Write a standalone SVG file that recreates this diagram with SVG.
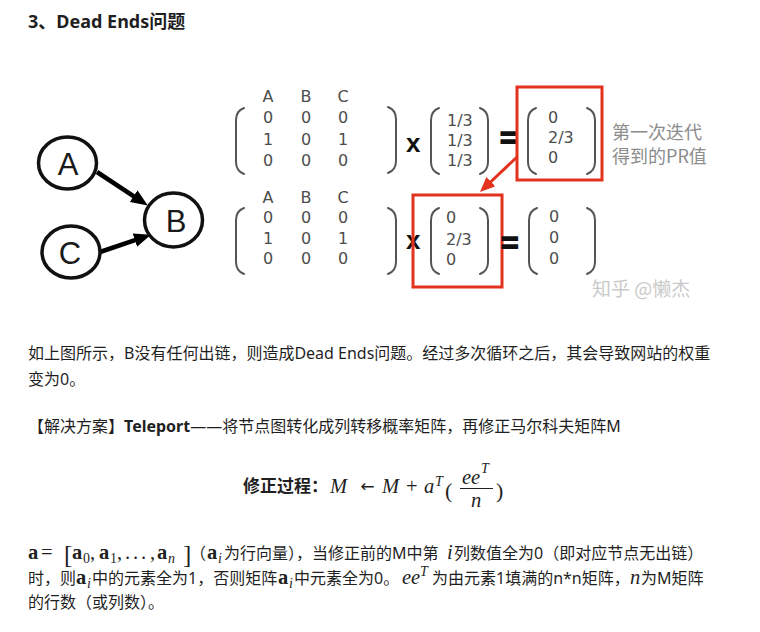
<svg xmlns="http://www.w3.org/2000/svg" width="760" height="632" viewBox="0 0 760 632">
<defs>
<style>
.m{font-family:"DejaVu Sans",sans-serif;font-size:16px;fill:#4d4d4d}
.mc{text-anchor:middle}
.br{fill:none;stroke:#555;stroke-width:2;stroke-linecap:round}
.op{font-family:"Liberation Sans",sans-serif;font-weight:bold;fill:#111}
.eq{font-family:"Liberation Sans",sans-serif;font-weight:bold;font-size:30px;fill:#111;stroke:#111;stroke-width:1.6}
.red{fill:none;stroke:#e3321e;stroke-width:3}
.node ellipse{fill:#fff;stroke:#111;stroke-width:3.5}
.node text{font-family:"Liberation Sans",sans-serif;font-size:31px;fill:#1a1a1a;text-anchor:middle}
.edge{stroke:#000;stroke-width:4.5;fill:none}
.t{font-family:"Noto Sans","Noto Sans CJK SC",sans-serif;font-size:16px;fill:#1f1f1f}
.math{font-family:"Liberation Serif",serif;font-size:20.5px;fill:#1f1f1f}
.sub{font-family:"Liberation Serif",serif;font-size:14px;fill:#1f1f1f}
.b{font-weight:bold}
.i{font-style:italic}
.note{font-family:"Noto Sans CJK SC",sans-serif;font-size:18px;fill:#8c8c8c}
.wm{font-family:"Noto Sans CJK SC",sans-serif;font-size:19px;fill:#cacaca}
</style>
<path id="lp" d="M9,0 Q1,3 1,12 L1,54 Q1,63 9,66"/>
<path id="rp" d="M0,0 Q8,3 8,12 L8,54 Q8,63 0,66"/>
<marker id="ah" markerUnits="userSpaceOnUse" markerWidth="17" markerHeight="14" refX="8" refY="7" orient="auto"><path d="M0,0 L17,7 L0,14 z" fill="#000"/></marker>
<marker id="rah" markerUnits="userSpaceOnUse" markerWidth="15" markerHeight="13" refX="7" refY="6.5" orient="auto"><path d="M0,0 L15,6.5 L0,13 z" fill="#e3321e"/></marker>
</defs>
<rect width="760" height="632" fill="#fff"/>

<text class="t b" x="28" y="28" style="font-size:18px">3、Dead Ends问题</text>

<g id="connectors">
<line class="edge" x1="97" y1="172" x2="140.3" y2="200.6" marker-end="url(#ah)"/>
<line class="edge" x1="100" y1="252" x2="142.4" y2="237.6" marker-end="url(#ah)"/>
<line stroke="#e3321e" stroke-width="3" x1="517" y1="157" x2="485.8" y2="186.5" marker-end="url(#rah)"/>
</g>

<g id="node-A" class="node"><ellipse cx="67.5" cy="163" rx="29" ry="26"/><text x="68" y="175">A</text></g>
<g id="node-B" class="node"><ellipse cx="173.5" cy="220" rx="29" ry="27"/><text x="176" y="232">B</text></g>
<g id="node-C" class="node"><ellipse cx="71" cy="252" rx="29" ry="26"/><text x="70" y="264">C</text></g>

<g id="matrix-top">
<use href="#lp" class="br" x="235" y="108"/>
<use href="#rp" class="br" x="388" y="107"/>
<text class="m mc" x="268" y="102">A</text><text class="m mc" x="306" y="102">B</text><text class="m mc" x="343" y="102">C</text>
<text class="m mc" x="268" y="123">0</text><text class="m mc" x="306" y="123">0</text><text class="m mc" x="343" y="123">0</text>
<text class="m mc" x="268" y="145">1</text><text class="m mc" x="306" y="145">0</text><text class="m mc" x="343" y="145">1</text>
<text class="m mc" x="268" y="166">0</text><text class="m mc" x="306" y="166">0</text><text class="m mc" x="343" y="166">0</text>
<text class="op" x="406" y="152" font-size="26">x</text>
<use href="#lp" class="br" x="430" y="108"/>
<use href="#rp" class="br" x="480" y="108"/>
<text class="m" x="447" y="126">1/3</text><text class="m" x="447" y="146">1/3</text><text class="m" x="447" y="166">1/3</text>
<text class="eq" x="500" y="148">=</text>
<rect class="red" x="517" y="87" width="85" height="93"/>
<use href="#lp" class="br" x="527" y="108"/>
<use href="#rp" class="br" x="587" y="108"/>
<text class="m" x="548" y="123">0</text><text class="m" x="548" y="143">2/3</text><text class="m" x="548" y="163">0</text>
<text class="note" x="612" y="139">第一次迭代</text>
<text class="note" x="612" y="163">得到的PR值</text>
</g>

<g id="matrix-bottom">
<use href="#lp" class="br" x="235" y="208"/>
<use href="#rp" class="br" x="388" y="208"/>
<text class="m mc" x="268" y="203">A</text><text class="m mc" x="306" y="203">B</text><text class="m mc" x="343" y="203">C</text>
<text class="m mc" x="268" y="223">0</text><text class="m mc" x="306" y="223">0</text><text class="m mc" x="343" y="223">0</text>
<text class="m mc" x="268" y="244">1</text><text class="m mc" x="306" y="244">0</text><text class="m mc" x="343" y="244">1</text>
<text class="m mc" x="268" y="264">0</text><text class="m mc" x="306" y="264">0</text><text class="m mc" x="343" y="264">0</text>
<text class="op" x="406" y="249" font-size="26">x</text>
<rect class="red" x="413" y="195" width="89" height="92"/>
<use href="#lp" class="br" x="430" y="208"/>
<use href="#rp" class="br" x="480" y="208"/>
<text class="m" x="446" y="223">0</text><text class="m" x="446" y="245">2/3</text><text class="m" x="446" y="265">0</text>
<text class="eq" x="501" y="253">=</text>
<use href="#lp" class="br" x="528" y="208"/>
<use href="#rp" class="br" x="587" y="208"/>
<text class="m" x="549" y="222">0</text><text class="m" x="549" y="243">0</text><text class="m" x="549" y="264">0</text>
<text class="wm" x="592" y="296">知乎 @懒杰</text>
</g>

<text class="t" x="28" y="359">如上图所示，B没有任何出链，则造成Dead Ends问题。经过多次循环之后，其会导致网站的权重</text>
<text class="t" x="28" y="385">变为0。</text>

<text class="t" x="28" y="432">【解决方案】<tspan class="b">Teleport</tspan>——将节点图转化成列转移概率矩阵，再修正马尔科夫矩阵M</text>

<g id="formula">
<text class="t b" x="243" y="492" style="font-size:17px">修正过程：</text>
<text class="math i" x="330" y="493">M</text>
<text class="math" x="367.5" y="492" text-anchor="middle" style="font-family:'DejaVu Sans',sans-serif;font-size:17px">←</text>
<text class="math i" x="382" y="493">M</text>
<text class="math" x="406" y="493">+</text>
<text class="math i" x="424" y="493">a</text>
<text class="sub i" x="435" y="486">T</text>
<text class="math" x="445" y="498" style="font-size:22px">(</text>
<text class="math i" x="462" y="484">ee</text>
<text class="sub i" x="481" y="473">T</text>
<line x1="460" y1="488.5" x2="493" y2="488.5" stroke="#1f1f1f" stroke-width="1"/>
<text class="math i" x="471" y="507">n</text>
<text class="math" x="496" y="498" style="font-size:22px">)</text>
</g>

<g id="para3">
<text class="math b" x="28" y="559">a</text>
<text class="math" x="41" y="559">=</text>
<text class="math" x="64" y="563" style="font-size:25px">[</text>
<text class="math b" x="72" y="559">a</text><text class="sub" x="83" y="563">0</text>
<text class="math" x="90" y="559">,</text>
<text class="math b" x="99" y="559">a</text><text class="sub" x="110" y="563">1</text>
<text class="math" x="117" y="559">,</text>
<text class="math" x="125" y="559">.</text>
<text class="math" x="133" y="559">.</text>
<text class="math" x="141" y="559">.</text>
<text class="math" x="150" y="559">,</text>
<text class="math b" x="157" y="559">a</text><text class="sub i" x="168" y="563">n</text>
<text class="math" x="183" y="563" style="font-size:25px">]</text>
<text class="t" x="190" y="559">（</text>
<text class="math b" x="207" y="559">a</text><text class="sub i" x="218" y="563">i</text>
<text class="t" x="224" y="559">为行向量），当修正前的M中第</text>
<text class="math i" x="447" y="559">i</text>
<text class="t" x="454" y="559">列数值全为0（即对应节点无出链）</text>

<text class="t" x="28" y="584">时，则</text>
<text class="math b" x="76" y="584">a</text><text class="sub i" x="87" y="588">i</text>
<text class="t" x="92" y="584">中的元素全为1，否则矩阵</text>
<text class="math b" x="278" y="584">a</text><text class="sub i" x="289" y="588">i</text>
<text class="t" x="294" y="584">中元素全为0。</text>
<text class="math i" x="402" y="584">ee</text><text class="sub i" x="420" y="576">T</text>
<text class="t" x="432" y="584">为由元素1填满的n*n矩阵，</text>
<text class="math i" x="630" y="584">n</text>
<text class="t" x="641" y="584">为M矩阵</text>

<text class="t" x="28" y="608">的行数（或列数）。</text>
</g>
</svg>
